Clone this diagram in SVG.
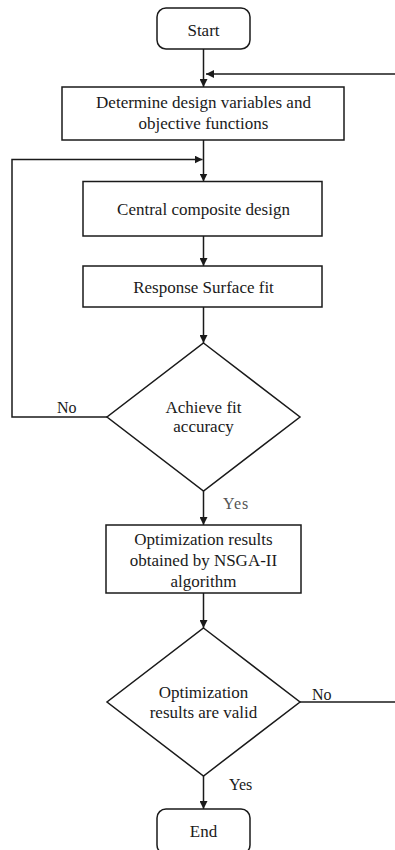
<svg xmlns="http://www.w3.org/2000/svg" width="395" height="850" viewBox="0 0 395 850">
  <style>
    .shape { fill: #ffffff; stroke: #1a1a1a; stroke-width: 1.5; }
    .link { fill: none; stroke: #1a1a1a; stroke-width: 1.5; }
    .txt { font-family: "Liberation Serif", "Times New Roman", serif; font-size: 17px; fill: #1a1a1a; text-anchor: middle; }
    .lbl { font-family: "Liberation Serif", "Times New Roman", serif; font-size: 16px; fill: #1a1a1a; }
    .lbl-grey { fill: #555555; letter-spacing: 1px; }
  </style>
  <defs>
    <marker id="arrow" viewBox="0 0 10 10" refX="10" refY="5" markerWidth="8" markerHeight="8" markerUnits="userSpaceOnUse" orient="auto">
      <path d="M0,0 L10,5 L0,10 Z" fill="#1a1a1a"/>
    </marker>
  </defs>
  <rect width="395" height="850" fill="#ffffff"/>

  <!-- connectors -->
  <g id="connectors">
    <line class="link" x1="203.5" y1="49" x2="203.5" y2="87" marker-end="url(#arrow)"/>
    <line class="link" x1="396" y1="74" x2="206" y2="74" marker-end="url(#arrow)"/>
    <line class="link" x1="203.5" y1="140" x2="203.5" y2="181.5" marker-end="url(#arrow)"/>
    <polyline class="link" points="107,417 12,417 12,159.5 202.5,159.5" marker-end="url(#arrow)"/>
    <line class="link" x1="203.5" y1="236" x2="203.5" y2="266" marker-end="url(#arrow)"/>
    <line class="link" x1="203.5" y1="307" x2="203.5" y2="343" marker-end="url(#arrow)"/>
    <line class="link" x1="203.5" y1="491" x2="203.5" y2="525" marker-end="url(#arrow)"/>
    <line class="link" x1="203.5" y1="593" x2="203.5" y2="628" marker-end="url(#arrow)"/>
    <line class="link" x1="300" y1="702" x2="396" y2="702"/>
    <line class="link" x1="203.5" y1="776" x2="203.5" y2="809" marker-end="url(#arrow)"/>
    <text class="lbl" x="57" y="413">No</text>
    <text class="lbl lbl-grey" x="223" y="509">Yes</text>
    <text class="lbl" x="312" y="700">No</text>
    <text class="lbl" x="229" y="790">Yes</text>
  </g>

  <g id="start">
    <rect class="shape" x="157" y="8" width="93" height="41" rx="9"/>
    <text class="txt" x="203.5" y="35.5">Start</text>
  </g>

  <g id="define-variables">
    <rect class="shape" x="62" y="87" width="282" height="53"/>
    <text class="txt" x="203.5" y="108">Determine design variables and</text>
    <text class="txt" x="203.5" y="129">objective functions</text>
  </g>

  <g id="ccd">
    <rect class="shape" x="83" y="181.5" width="239" height="54.5"/>
    <text class="txt" x="203.5" y="215">Central composite design</text>
  </g>

  <g id="rs-fit">
    <rect class="shape" x="83" y="266" width="239" height="41"/>
    <text class="txt" x="203.5" y="292.5">Response Surface fit</text>
  </g>

  <g id="fit-check">
    <polygon class="shape" points="203.5,343 300,417 203.5,491 107,417"/>
    <text class="txt" x="203.5" y="412.5">Achieve fit</text>
    <text class="txt" x="203.5" y="432">accuracy</text>
  </g>

  <g id="nsga">
    <rect class="shape" x="106" y="525" width="195" height="68"/>
    <text class="txt" x="203.5" y="544.5">Optimization results</text>
    <text class="txt" x="203.5" y="565.5">obtained by NSGA-II</text>
    <text class="txt" x="203.5" y="586.5">algorithm</text>
  </g>

  <g id="valid-check">
    <polygon class="shape" points="203.5,628 300,702 203.5,776 107,702"/>
    <text class="txt" x="203.5" y="698">Optimization</text>
    <text class="txt" x="203.5" y="718">results are valid</text>
  </g>

  <g id="end">
    <rect class="shape" x="157" y="809" width="93" height="45" rx="9"/>
    <text class="txt" x="203.5" y="837">End</text>
  </g>
</svg>
